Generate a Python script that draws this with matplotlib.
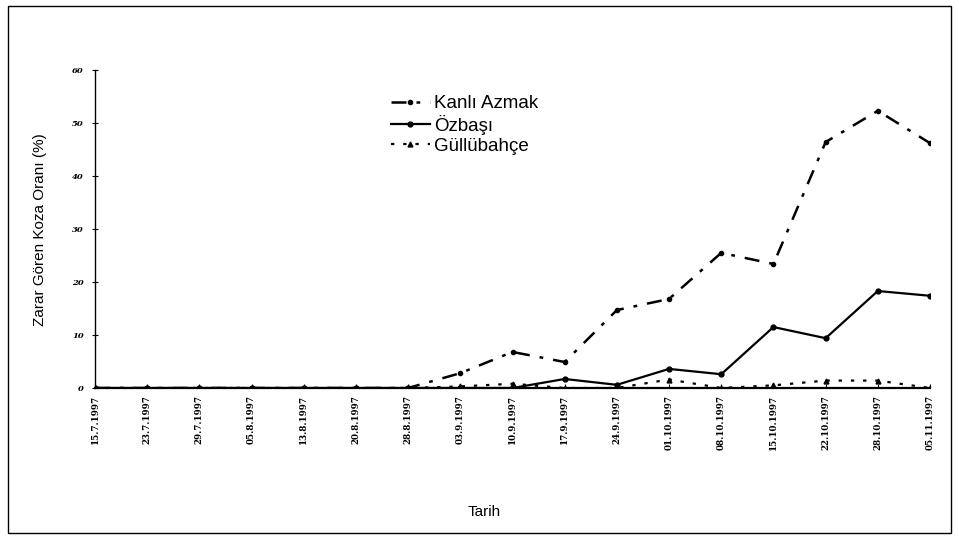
import matplotlib
matplotlib.use("Agg")
import matplotlib.pyplot as plt
from matplotlib.patches import Rectangle

# =========================================================
# DATA
# =========================================================

dates = ["15.7.1997", "23.7.1997", "29.7.1997", "05.8.1997", "13.8.1997",
         "20.8.1997", "28.8.1997", "03.9.1997", "10.9.1997", "17.9.1997",
         "24.9.1997", "01.10.1997", "08.10.1997", "15.10.1997", "22.10.1997",
         "28.10.1997", "05.11.1997"]

kanli_azmak = [0, 0, 0, 0, 0, 0, 0, 2.8, 6.8, 4.9, 14.7, 16.8, 25.5, 23.4, 46.4, 52.3, 46.2]
ozbasi = [0, 0, 0, 0, 0, 0, 0, 0, 0, 1.7, 0.6, 3.6, 2.6, 11.5, 9.4, 18.3, 17.4]
gullubahce = [0, 0, 0, 0, 0, 0, 0, 0.3, 0.8, 0, 0, 1.6, 0, 0.5, 1.4, 1.4, 0]

y_ticks = [0, 10, 20, 30, 40, 50, 60]

# =========================================================
# FIGURE
# =========================================================

fig = plt.figure(figsize=(9.59, 5.38), dpi=100)
fig.patches.append(Rectangle((8 / 959, 5 / 538), 943 / 959, 527 / 538,
                             transform=fig.transFigure, fill=False,
                             edgecolor="black", linewidth=1.0))

ax = fig.add_axes([95 / 959, 150 / 538, 835 / 959, 318 / 538])

x = list(range(len(dates)))

ax.plot(x, kanli_azmak, color="black", linestyle=(0, (6, 4, 1.5, 4)),
        linewidth=1.8, marker="o", markersize=3, label="Kanlı Azmak")
ax.plot(x, ozbasi, color="black", linestyle="-", linewidth=1.6,
        marker="o", markersize=3.5, label="Özbaşı")
ax.plot(x, gullubahce, color="black", linestyle=(0, (1.5, 4)),
        linewidth=1.6, marker="^", markersize=3.5, label="Güllübahçe")

# =========================================================
# AXES
# =========================================================

ax.set_xlim(0, len(dates) - 1)
ax.set_ylim(0, 60)
ax.spines["top"].set_visible(False)
ax.spines["right"].set_visible(False)
ax.spines["left"].set_linewidth(1.0)
ax.spines["bottom"].set_linewidth(1.6)

ax.set_yticks(y_ticks)
ax.set_yticklabels([str(v) for v in y_ticks], fontsize=6, family="serif",
                   style="italic", fontweight="bold")
ax.tick_params(axis="y", direction="inout", length=4, width=0.8, pad=6)

ax.set_xticks(x)
ax.set_xticklabels(dates, rotation=90, fontsize=6.3, family="serif",
                   fontweight="bold")
ax.tick_params(axis="x", direction="in", length=3, width=0.8, pad=5)

fig.text(40 / 959, 1 - 230 / 538, "Zarar Gören Koza Oranı (%)", rotation=90,
         ha="center", va="center", fontsize=11, family="Liberation Sans")
fig.text(484 / 959, 1 - 512 / 538, "Tarih", ha="center", va="center",
         fontsize=11, family="Liberation Sans")

leg = ax.legend(loc="upper left", bbox_to_anchor=(0.345, 0.945), frameon=False,
                handlelength=2.1, handletextpad=0.2,
                labelspacing=0.15, borderaxespad=0,
                prop={"family": "Liberation Sans", "size": 13.5})

fig.savefig("out.png", dpi=100)
